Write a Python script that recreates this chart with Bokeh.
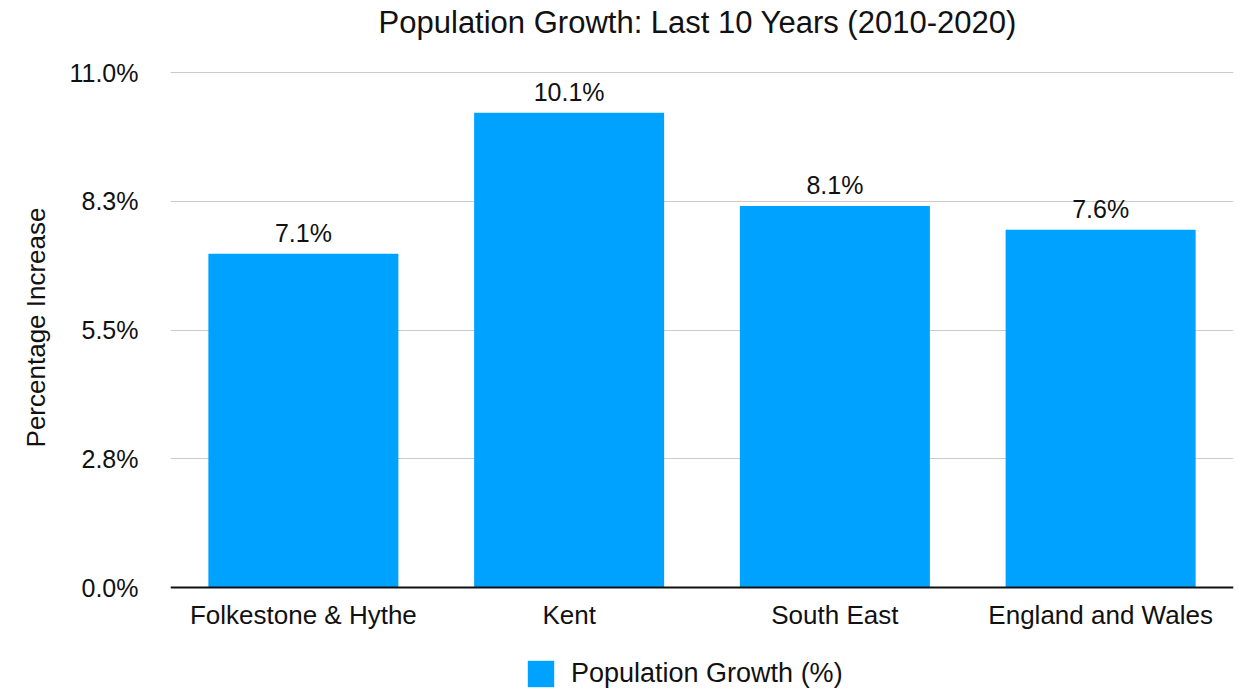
from bokeh.plotting import figure
from bokeh.models import (ColumnDataSource, FixedTicker, LabelSet, Label, Legend, LegendItem,
                          FactorRange, Range1d, Span, Title)
from bokeh.core.properties import value
from bokeh.embed import file_html
from bokeh.resources import INLINE

categories = ["Folkestone & Hythe", "Kent", "South East", "England and Wales"]
growth = [7.13, 10.14, 8.15, 7.64]
value_labels = ["7.1%", "10.1%", "8.1%", "7.6%"]
y_ticks = [0, 2.75, 5.5, 8.25, 11.0]
y_tick_labels = ["0.0%", "2.8%", "5.5%", "8.3%", "11.0%"]
title_text = "Population Growth:  Last 10 Years (2010-2020)"
y_title = "Percentage Increase"
series_name = "Population Growth (%)"

BAR = "#00a2ff"
FONT = "Liberation Sans"
INK = "#111111"

src = ColumnDataSource(dict(cat=categories, val=growth, lab=value_labels,
                            zero=[0] * len(categories)))

# frame spans the full canvas height; 0..11 occupies y=587..72 px
Y_MIN, Y_MAX = -2.264, 12.538

p = figure(width=1239, height=693, x_range=FactorRange(*categories, range_padding=0),
           y_range=Range1d(Y_MIN, Y_MAX), output_backend="svg", toolbar_location=None,
           x_axis_location=None,
           min_border_left=170, min_border_right=6, min_border_top=0, min_border_bottom=0)

r = p.vbar(x="cat", top="val", width=0.715, source=src, color=BAR, line_color=None)

p.add_layout(Span(location=0, dimension="width", line_color=INK, line_width=2))

p.add_layout(LabelSet(x="cat", y="val", text="lab", source=src, text_align="center",
                      text_baseline="bottom", y_offset=7, text_font=value(FONT),
                      text_font_size=value("25px"), text_color=value(INK)))

p.add_layout(LabelSet(x="cat", y="zero", text="cat", source=src, text_align="center",
                      text_baseline="middle", y_offset=-27, text_font=value(FONT),
                      text_font_size=value("26px"), text_color=value(INK)))

p.add_layout(Label(x=2.0, y=11.0, text=title_text, text_align="center",
                   text_baseline="middle", y_offset=50, text_font=FONT,
                   text_font_size="31px", text_color=INK))

p.yaxis.ticker = FixedTicker(ticks=y_ticks)
p.yaxis.major_label_overrides = {t: l for t, l in zip(y_ticks, y_tick_labels)}
p.yaxis.axis_line_color = None
p.yaxis.major_tick_line_color = None
p.yaxis.minor_tick_line_color = None
p.yaxis.major_label_text_font = FONT
p.yaxis.major_label_text_font_size = "25px"
p.yaxis.major_label_text_color = INK
p.yaxis.major_label_standoff = 26

p.add_layout(Title(text=y_title, align="right", offset=207, standoff=32,
                   text_font=FONT, text_font_size="26px", text_font_style="normal",
                   text_color=INK), "left")

p.xgrid.grid_line_color = None
p.ygrid.grid_line_color = "#cccccc"
p.ygrid.grid_line_width = 1
p.outline_line_color = None

legend = Legend(items=[LegendItem(label=series_name, renderers=[r])],
                location=(354, 3), orientation="horizontal",
                label_text_font=FONT, label_text_font_size="27px",
                label_text_color=INK, glyph_width=33, glyph_height=33,
                border_line_color=None, background_fill_alpha=0,
                padding=0, margin=0, spacing=10, label_standoff=14)
p.add_layout(legend)

open("out.html", "w").write(file_html(p, INLINE))
